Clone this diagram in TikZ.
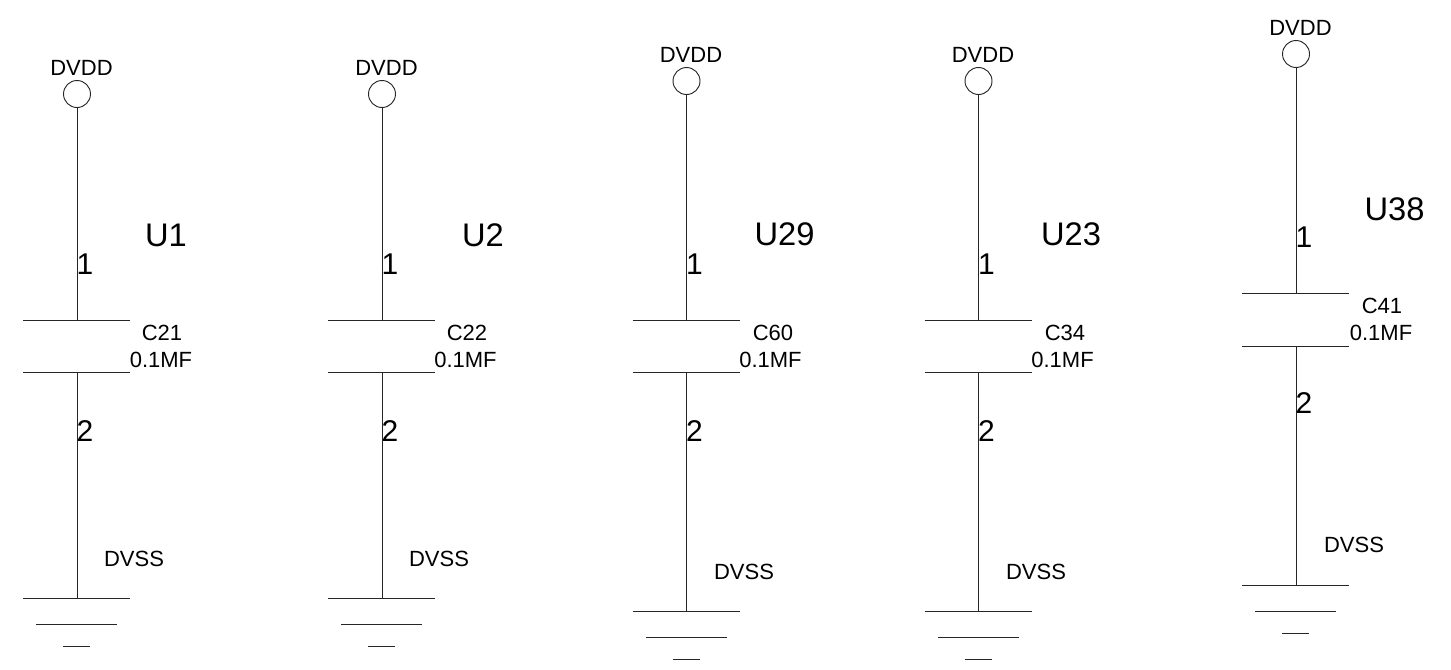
\documentclass[tikz,border=0pt]{standalone}
\usepackage{fontspec}
\setmainfont{Liberation Sans}
\tikzset{
  wire/.style={draw=black!85,line width=0.7pt},
  pwr/.style={circle,draw=black!85,line width=0.7pt,minimum size=20.25pt,inner sep=0pt},
  smalltxt/.style={font=\fontsize{16.5}{16.5}\selectfont,inner sep=0pt,text=black},
  pintxt/.style={font=\fontsize{22.5}{22.5}\selectfont,inner sep=0pt,text=black},
  reftxt/.style={font=\fontsize{24.5}{24.5}\selectfont,inner sep=0pt,text=black}
}
\begin{document}
\begin{tikzpicture}[x=0.75pt,y=-0.75pt]
\useasboundingbox (0,0) rectangle (1451,669);
% x / circle y / plate1 / plate2 / ground / reference / ref x / ref y / C name / C x / 0.1MF x / DVSS x / DVSS y / pin1 y / pin2 y
\foreach \i/\x/\cy/\pa/\pb/\gy/\rf/\rx/\ry/\cn/\cx/\mx/\sx/\sy/\oy/\ty in {
 a/77/94/320/372/598/U1/166/235/C21/162/161/134/559/264/431,
 b/382/94/320/372/598/U2/483/235/C22/467/465.5/439/559/264/431,
 c/686.5/81/320/372/611/U29/784.5/234/C60/773/770.5/744/572/264/431,
 d/978.5/81/320/372/611/U23/1071/234/C34/1065/1062.5/1036/572/264/431,
 e/1296/54/293/346/585/U38/1394.5/209/C41/1382/1381/1354/545/237/403}
{
  \node[pwr] (vdd\i) at (\x,\cy) {};
  \node[smalltxt] (vddt\i) at (\x+4.5,\cy-26.5) {DVDD};
  \coordinate (pa\i) at (\x,\pa);
  \coordinate (pb\i) at (\x,\pb);
  \coordinate (g\i) at (\x,\gy);
  \draw[wire] (vdd\i.south) -- (pa\i);
  \draw[wire] (pb\i) -- (g\i);
  \draw[wire] ([xshift=-40.5pt]pa\i) -- ([xshift=40pt]pa\i);
  \draw[wire] ([xshift=-40.5pt]pb\i) -- ([xshift=40pt]pb\i);
  \draw[wire] ([xshift=-40.5pt]g\i) -- ([xshift=40pt]g\i);
  \draw[wire] ([xshift=-30.5pt,yshift=-19.5pt]g\i) -- ([xshift=30pt,yshift=-19.5pt]g\i);
  \draw[wire] ([xshift=-10.5pt,yshift=-36pt]g\i) -- ([xshift=10pt,yshift=-36pt]g\i);
  \node[reftxt] (ref\i) at (\rx,\ry) {\rf};
  \node[pintxt] (one\i) at (\x+8,\oy) {1};
  \node[pintxt] (two\i) at (\x+8,\ty) {2};
  \node[smalltxt] (cn\i) at (\cx,\pa+13) {\cn};
  \node[smalltxt] (val\i) at (\mx,\pa+40) {0.1MF};
  \node[smalltxt] (vss\i) at (\sx,\sy) {DVSS};
}
\end{tikzpicture}
\end{document}
